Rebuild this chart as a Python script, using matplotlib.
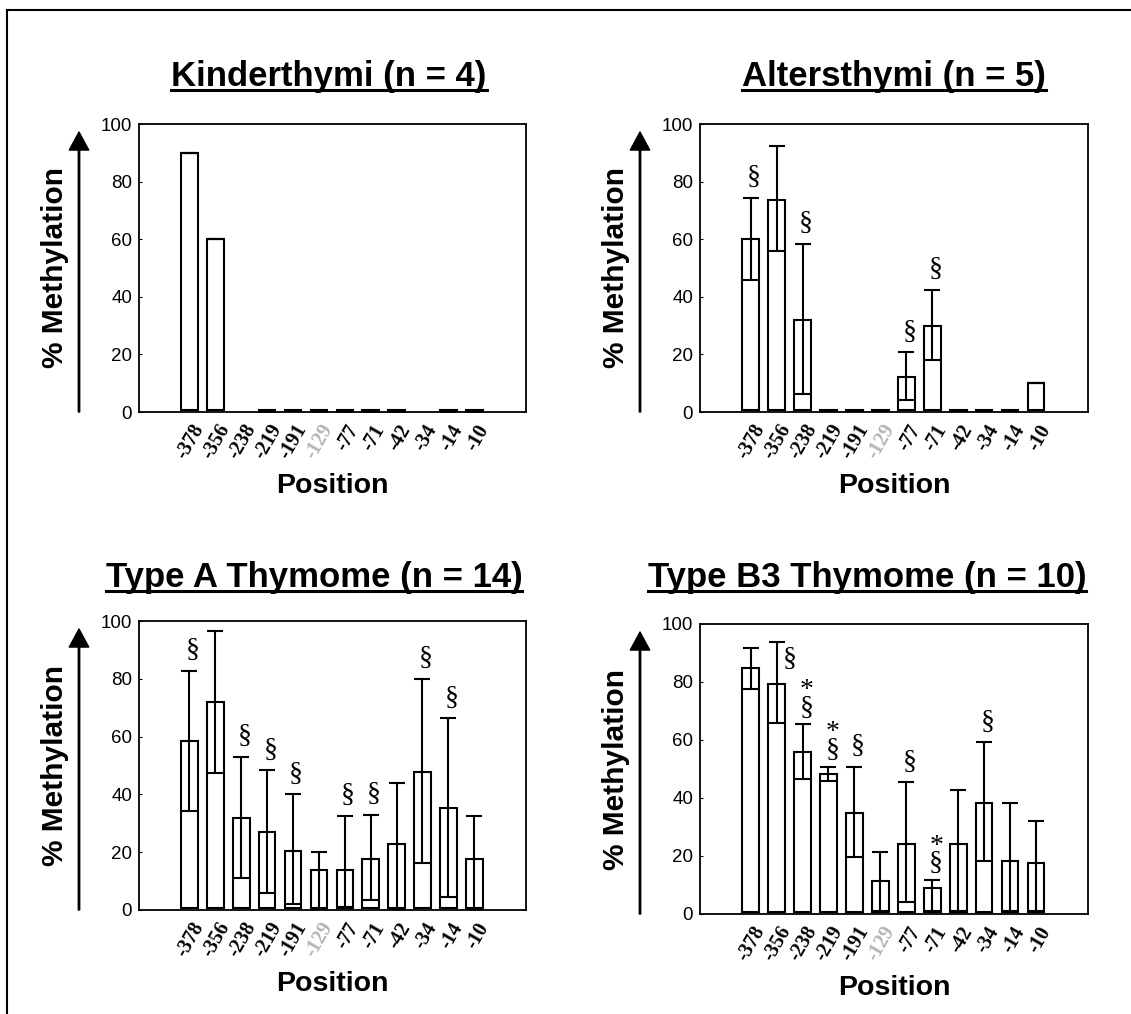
import matplotlib
matplotlib.use('Agg')
import matplotlib.pyplot as plt
import numpy as np
from matplotlib.lines import Line2D
from matplotlib.transforms import ScaledTranslation

plt.rcParams['font.family'] = 'Liberation Sans'

W, H = 1131, 1014
POS = ['-378', '-356', '-238', '-219', '-191', '-129',
       '-77', '-71', '-42', '-34', '-14', '-10']

# ── values (mean, lower end, upper end of error bar) ──
kinder_mean = [90, 60, np.nan, 0, 0.5, 0, 0, 0, 0, np.nan, 0, 0]
kinder_lo   = [90, 60, np.nan, 0, 0.5, 0, 0, 0, 0, np.nan, 0, 0]
kinder_hi   = [90, 60, np.nan, 0, 0.5, 0, 0, 0, 0, np.nan, 0, 0]
kinder_sig  = [''] * 12

alter_mean = [60, 73.5, 32, 0.5, 0.5, 0.5, 12, 30, 0.5, 0.5, 0.5, 10]
alter_lo   = [46, 56, 6.3, 0.5, 0.5, 0.5, 4, 18, 0.5, 0.5, 0.5, 10]
alter_hi   = [74.3, 92.3, 58.4, 0.5, 0.5, 0.5, 20.7, 42.4, 0.5, 0.5, 0.5, 10]
alter_sig  = ['§', '', '§', '', '', '', '§', '§', '', '', '', '']

typea_mean = [58.5, 71.8, 31.7, 26.9, 20.5, 13.8, 13.8, 17.7, 22.7, 47.6, 35.2, 17.7]
typea_lo   = [34.3, 47.5, 11, 5.8, 2, 0.5, 1.2, 3.5, 0.5, 16.4, 4.6, 0.5]
typea_hi   = [82.7, 96.7, 53, 48.4, 40, 19.9, 32.5, 33, 44, 80.1, 66.3, 32.5]
typea_sig  = ['§', '', '§', '§', '§', '', '§', '§', '', '§', '§', '']

typeb_mean = [84.7, 79.2, 55.8, 48.2, 34.9, 11.5, 24, 8.9, 24, 38.4, 18.4, 17.7]
typeb_lo   = [77.6, 66, 46.7, 46, 19.8, 1, 4, 1, 1, 18.4, 1, 1]
typeb_hi   = [91.6, 93.8, 65.4, 50.8, 50.8, 21.3, 45.4, 11.7, 42.8, 59.2, 38.4, 32.2]
typeb_sig  = ['', '§', '§*', '§*', '§', '', '§', '§*', '', '§', '', '']

PANELS = [
    ('Kinderthymi (n = 4)', kinder_mean, kinder_lo, kinder_hi, kinder_sig,
     (139, 124, 526, 412), 329, 86),
    ('Altersthymi (n = 5)', alter_mean, alter_lo, alter_hi, alter_sig,
     (700, 124, 1088, 412), 894, 86),
    ('Type A Thymome (n = 14)', typea_mean, typea_lo, typea_hi, typea_sig,
     (139, 621, 526, 910), 314, 587),
    ('Type B3 Thymome (n = 10)', typeb_mean, typeb_lo, typeb_hi, typeb_sig,
     (700, 624, 1088, 914), 867, 587),
]

BASE = 0.8
fig = plt.figure(figsize=(W / 100, H / 100), dpi=100)
titles = []

for title, mean, lo, hi, sig, (x0, y0, x1, y1), tx, ty in PANELS:
    ax = fig.add_axes([x0 / W, 1 - y1 / H, (x1 - x0) / W, (y1 - y0) / H])
    mean = np.array(mean, float)
    lo = np.array(lo, float)
    hi = np.array(hi, float)
    x = np.arange(len(POS))
    ok = ~np.isnan(mean)

    ax.bar(x[ok], mean[ok] - BASE, 0.64, bottom=BASE, facecolor='white',
           edgecolor='black', linewidth=1.5, zorder=2)
    ax.errorbar(x[ok], mean[ok], yerr=[mean[ok] - lo[ok], hi[ok] - mean[ok]],
                fmt='none', ecolor='black', elinewidth=1.5, capsize=6,
                capthick=1.5, zorder=3)

    for i, s in enumerate(sig):
        if not s:
            continue
        if hi[i] > 90:
            # no room above: sign sits beside the error bar
            ax.text(x[i] + 0.5, hi[i] - 6, '§', ha='center', va='center',
                    fontsize=20, family='Liberation Serif', zorder=4)
        elif '*' in s:
            ax.text(x[i] + 0.15, hi[i] + 1.3, '*\n§', ha='center',
                    va='bottom', multialignment='right', linespacing=0.62,
                    fontsize=20, family='Liberation Serif', zorder=4)
        else:
            ax.text(x[i] + 0.12, hi[i] + 7, '§', ha='center', va='center',
                    fontsize=20, family='Liberation Serif', zorder=4)

    ax.set_xlim(-1.95, 13.0)
    ax.set_ylim(0, 100)
    ax.set_yticks([0, 20, 40, 60, 80, 100])
    ax.tick_params(axis='y', labelsize=13.5, length=2, direction='in', pad=5)
    ax.set_xticks(x)
    ax.set_xticklabels(POS, rotation=60, ha='right', va='center',
                       rotation_mode='anchor', family='Liberation Serif',
                       fontweight='bold', fontsize=14.5)
    ax.tick_params(axis='x', length=0, pad=10)
    off = ScaledTranslation(7 / 72, 0, fig.dpi_scale_trans)
    for lab in ax.get_xticklabels():
        lab.set_transform(lab.get_transform() + off)
        if lab.get_text() == '-129':
            lab.set_color('#b4b4b4')
    for sp in ax.spines.values():
        sp.set_linewidth(1.3)

    # y label and arrow sit to the left of the axes
    ly = 1 - (y0 + y1) / 2 / H
    fig.text((x0 - 84) / W, ly, '% Methylation', rotation=90, ha='center',
             va='center', fontsize=21.5, fontweight='bold')
    fig.text((x0 + x1) / 2 / W, 1 - (y1 + 74) / H, 'Position', ha='center',
             va='center', fontsize=20.5, fontweight='bold')
    ax.annotate('', xy=(x0 - 60, H - y0 - 8), xytext=(x0 - 60, H - y1),
                xycoords='figure pixels', textcoords='figure pixels',
                arrowprops=dict(facecolor='black', edgecolor='black',
                                width=1, headwidth=14, headlength=13,
                                shrink=0))

    t = fig.text(tx / W, 1 - ty / H, title, ha='center', va='baseline',
                 fontsize=25, fontweight='bold')
    titles.append(t)

# underline titles
fig.canvas.draw()
r = fig.canvas.get_renderer()
for t in titles:
    bb = t.get_window_extent(r)
    yy = (bb.y0 + bb.height * 0.16) / H
    fig.add_artist(Line2D([bb.x0 / W, bb.x1 / W], [yy - 0.002, yy - 0.002],
                          transform=fig.transFigure, color='black', lw=2.2))

# outer frame (only top and left edges fall inside the image)
fig.add_artist(Line2D([7 / W, 1], [1 - 10 / H, 1 - 10 / H],
                      transform=fig.transFigure, color='black', lw=1.5))
fig.add_artist(Line2D([7 / W, 7 / W], [0, 1 - 10 / H],
                      transform=fig.transFigure, color='black', lw=1.5))

fig.savefig('out.png', dpi=100)
